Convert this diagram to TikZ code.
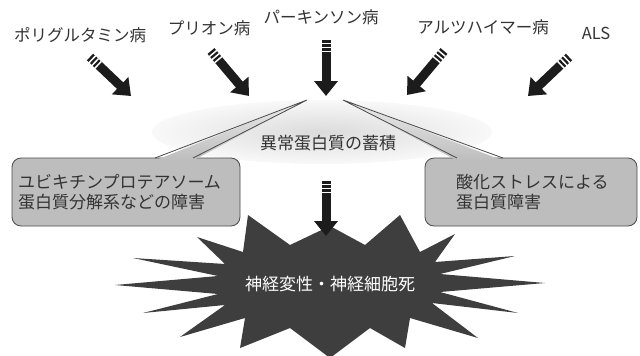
\documentclass[tikz,border=0pt]{standalone}
\usepackage{fontspec}
\setmainfont{Noto Sans CJK JP}
\usetikzlibrary{shapes.geometric,arrows.meta,calc}
\definecolor{inkgray}{HTML}{333333}
\definecolor{arrowblack}{HTML}{1C1C1C}
\definecolor{boxgray}{HTML}{BDBDBD}
\definecolor{boxline}{HTML}{4A4A4A}
\definecolor{burstgray}{HTML}{3E3E3E}
\tikzstyle{disease}=[text=inkgray,font=\fontsize{16.5}{18}\selectfont]
\tikzstyle{fatarrow}=[line width=9pt,draw=arrowblack,-{Triangle[width=23pt,length=15pt]}]
\tikzstyle{stripes}=[line width=9.6pt,draw=white,dash pattern=on 1.5pt off 2.5pt]
\tikzstyle{callout}=[rectangle,rounded corners=9pt,draw=boxline,fill=boxgray,line width=0.8pt,minimum height=68pt,align=left,text=inkgray,font=\fontsize{17}{20}\selectfont]
\tikzstyle{pointer}=[top color=gray!15,bottom color=boxgray]

\begin{document}
\begin{tikzpicture}[x=1pt,y=-1pt]
            \useasboundingbox (0,0) rectangle (640,356);
            % diseases along the top
            \node (polyq)[disease] at (80,35){ポリグルタミン病};
            \node (prion)[disease] at (209,28){プリオン病};
            \node (parkinson)[disease] at (321,17){パーキンソン病};
            \node (alzheimer)[disease] at (483,27){アルツハイマー病};
            \node (als)[disease] at (596,33){ALS};
            % aggregate cloud
            \node (cloud)[ellipse,minimum width=340pt,minimum height=64pt,inner color=gray!28,outer color=gray!5] at (322,132){};
            \node (accum)[text=inkgray,font=\fontsize{17}{20}\selectfont] at (328,143){異常蛋白質の蓄積};
            % the two callouts
            \node (ups)[callout,text width=216pt,inner xsep=6pt] at (126,192){ユビキチンプロテアソーム\\蛋白質分解系などの障害};
            \node (oxid)[callout,text width=150pt,inner xsep=31pt] at (531,192){酸化ストレスによる\\蛋白質障害};
            \coordinate (upstip) at (307,100);
            \coordinate (oxidtip) at (343,100);
            \shade[pointer] (155,160.5) -- (upstip) -- (193,160.5) -- cycle;
            \draw[boxline,line width=0.8pt] (155,158) -- (upstip) -- (193,158);
            \shade[pointer] (457,160.5) -- (oxidtip) -- (503,160.5) -- cycle;
            \draw[boxline,line width=0.8pt] (457,158) -- (oxidtip) -- (503,158);
            % starburst
            \fill[burstgray] (330,226) -- (365,245) -- (400,215) -- (420,252) -- (455,234) -- (435,262)
                -- (515,256) -- (440,274) -- (545,283) -- (440,292) -- (518,313) -- (432,303)
                -- (478,338) -- (410,318) -- (405,348) -- (370,328) -- (330,358) -- (290,328)
                -- (240,348) -- (245,318) -- (180,337) -- (225,305) -- (143,313) -- (218,294)
                -- (115,285) -- (218,276) -- (133,258) -- (225,264) -- (197,237) -- (243,252)
                -- (248,215) -- (290,245) -- cycle;
            \node (death)[text=white,font=\fontsize{17}{20}\selectfont] at (330,284){神経変性・神経細胞死};
            % arrows
            \coordinate (t1) at (90,57);   \coordinate (h1) at (131,96);
            \coordinate (t2) at (211,51);  \coordinate (h2) at (249,96);
            \coordinate (t3) at (326,40);  \coordinate (h3) at (326,96);
            \coordinate (t4) at (444,51);  \coordinate (h4) at (407,95);
            \coordinate (t5) at (569,57);  \coordinate (h5) at (528,96);
            \coordinate (t6) at (326,181); \coordinate (h6) at (326,236);
            \foreach \i in {1,...,6}{
                \draw [fatarrow] (t\i) -- (h\i);
                \draw [stripes] ($(t\i)!2.5pt!(h\i)$) -- ($(t\i)!12pt!(h\i)$);
            }
        \end{tikzpicture}
\end{document}
